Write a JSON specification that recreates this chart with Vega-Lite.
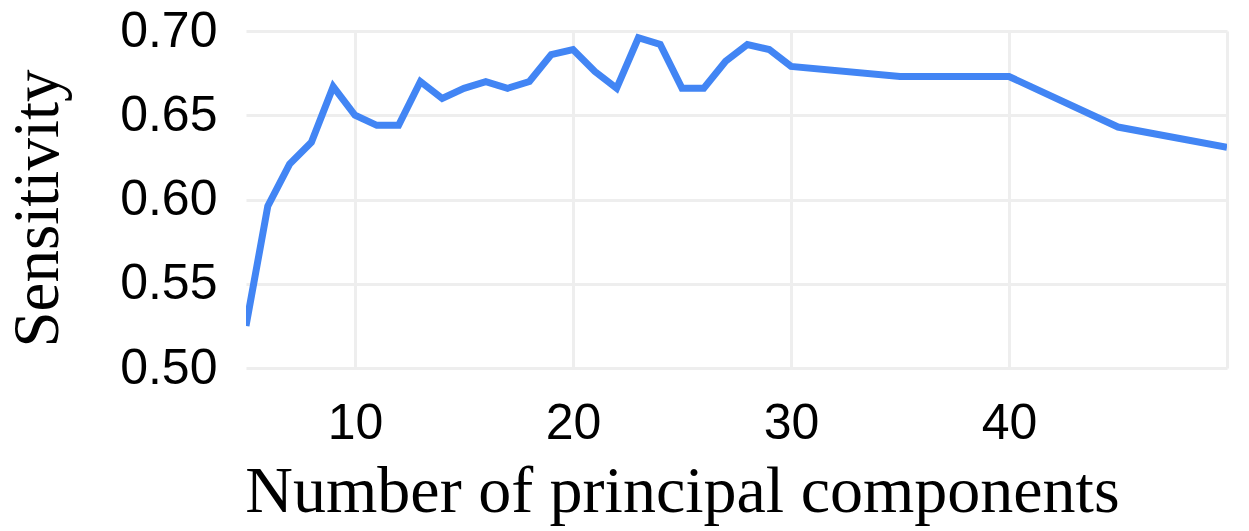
{
  "$schema": "https://vega.github.io/schema/vega-lite/v6.json",
  "width": 981,
  "height": 337,
  "autosize": "none",
  "padding": {"left": 246, "top": 31, "right": 22, "bottom": 163},
  "background": "white",
  "config": {"view": {"stroke": null}},
  "data": {"values": [
    {"pc": 5, "sensitivity": 0.525},
    {"pc": 6, "sensitivity": 0.596},
    {"pc": 7, "sensitivity": 0.621},
    {"pc": 8, "sensitivity": 0.634},
    {"pc": 9, "sensitivity": 0.667},
    {"pc": 10, "sensitivity": 0.650},
    {"pc": 11, "sensitivity": 0.644},
    {"pc": 12, "sensitivity": 0.644},
    {"pc": 13, "sensitivity": 0.670},
    {"pc": 14, "sensitivity": 0.660},
    {"pc": 15, "sensitivity": 0.666},
    {"pc": 16, "sensitivity": 0.670},
    {"pc": 17, "sensitivity": 0.666},
    {"pc": 18, "sensitivity": 0.670},
    {"pc": 19, "sensitivity": 0.686},
    {"pc": 20, "sensitivity": 0.689},
    {"pc": 21, "sensitivity": 0.676},
    {"pc": 22, "sensitivity": 0.666},
    {"pc": 23, "sensitivity": 0.696},
    {"pc": 24, "sensitivity": 0.692},
    {"pc": 25, "sensitivity": 0.666},
    {"pc": 26, "sensitivity": 0.666},
    {"pc": 27, "sensitivity": 0.682},
    {"pc": 28, "sensitivity": 0.692},
    {"pc": 29, "sensitivity": 0.689},
    {"pc": 30, "sensitivity": 0.679},
    {"pc": 35, "sensitivity": 0.673},
    {"pc": 40, "sensitivity": 0.673},
    {"pc": 45, "sensitivity": 0.643},
    {"pc": 50, "sensitivity": 0.631}
  ]},
  "mark": {"type": "line", "color": "#4285F4", "strokeWidth": 7, "clip": true},
  "encoding": {
    "x": {
      "field": "pc",
      "type": "quantitative",
      "scale": {"domain": [5, 50], "nice": false, "zero": false},
      "axis": {
        "title": "Number of principal components",
        "values": [10, 20, 30, 40, 50],
        "labelExpr": "datum.value == 50 ? '' : datum.label",
        "domain": false,
        "ticks": false,
        "grid": true,
        "gridColor": "#eeeeee",
        "gridWidth": 3,
        "labelFont": "Liberation Sans",
        "labelFontSize": 50,
        "labelColor": "#000000",
        "labelPadding": 30,
        "titleFont": "Liberation Serif",
        "titleFontSize": 66,
        "titleFontWeight": "normal",
        "titleColor": "#000000",
        "titlePadding": 11,
        "titleX": 436
      }
    },
    "y": {
      "field": "sensitivity",
      "type": "quantitative",
      "scale": {"domain": [0.5, 0.7], "nice": false, "zero": false},
      "axis": {
        "title": "Sensitivity",
        "values": [0.5, 0.55, 0.6, 0.65, 0.7],
        "format": ".2f",
        "domain": false,
        "ticks": false,
        "grid": true,
        "gridColor": "#eeeeee",
        "gridWidth": 3,
        "labelFont": "Liberation Sans",
        "labelFontSize": 50,
        "labelColor": "#000000",
        "labelPadding": 29,
        "titleFont": "Liberation Serif",
        "titleFontSize": 65,
        "titleFontWeight": "normal",
        "titleColor": "#000000",
        "titlePadding": 48,
        "titleY": 177
      }
    }
  }
}
